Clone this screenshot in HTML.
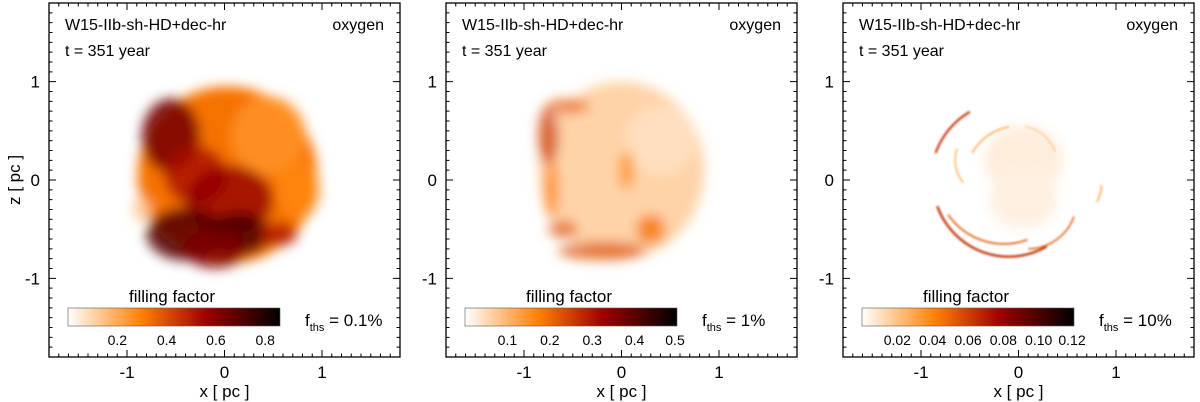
<!DOCTYPE html>
<html><head><meta charset="utf-8"><style>
html,body{margin:0;padding:0;background:#fff;}
svg{display:block;font-family:"Liberation Sans",sans-serif;}
</style></head><body>
<svg id="fig" width="1200" height="402" viewBox="0 0 1200 402" xmlns="http://www.w3.org/2000/svg">
<defs>
<filter id="blur" filterUnits="userSpaceOnUse" x="0" y="0" width="1200" height="402"><feGaussianBlur stdDeviation="6"/></filter>
<filter id="blur2" filterUnits="userSpaceOnUse" x="0" y="0" width="1200" height="402"><feGaussianBlur stdDeviation="1"/></filter>
<linearGradient id="cmap" x1="0" x2="1" y1="0" y2="0">
<stop offset="0" stop-color="#ffffff"/><stop offset="0.35" stop-color="#ff7f00"/><stop offset="0.65" stop-color="#a00000"/><stop offset="1" stop-color="#000000"/>
</linearGradient>
</defs>
</svg>
<script>
const panelOffsets=[0,397,794];
const xTicks=[-1,0,1];
const zTicks=[-1,0,1];
const cbTicks1=[0.2,0.4,0.6,0.8];const cbMax1=0.86;
const cbTicks2=[0.1,0.2,0.3,0.4,0.5];const cbMax2=0.5;
const cbTicks3=[0.02,0.04,0.06,0.08,0.10,0.12];const cbMax3=0.12;
const thsLabels=["0.1%","1%","10%"];
// blobs: x, z, rx, rz, value(0-1 colormap), opacity
const blobs1=[[0.03,0.05,0.92,0.9,0.38,1],[0.45,0.45,0.38,0.4,0.3,0.9],[0.75,-0.1,0.22,0.3,0.33,0.9],[-0.55,0.45,0.3,0.38,0.75,0.85],[-0.3,0.05,0.32,0.3,0.62,0.8],[0.05,-0.2,0.45,0.35,0.68,0.8],[-0.4,-0.55,0.4,0.27,0.82,0.85],[0.15,-0.55,0.32,0.22,0.85,0.85],[-0.1,-0.7,0.32,0.2,0.72,0.8],[0.55,-0.55,0.2,0.12,0.6,0.8],[-0.85,-0.3,0.1,0.12,0.15,0.8]];
const blobs2=[[0.0,0.1,0.85,0.9,0.12,1],[0.4,0.4,0.35,0.35,0.08,0.8],[-0.75,0.45,0.1,0.3,0.5,0.8],[-0.55,0.75,0.22,0.07,0.42,0.8],[-0.72,-0.1,0.07,0.3,0.35,0.8],[-0.2,-0.72,0.45,0.09,0.45,0.8],[0.3,-0.5,0.15,0.15,0.38,0.8],[0.05,0.1,0.08,0.2,0.3,0.8],[-0.6,-0.5,0.15,0.08,0.45,0.8]];
const haze3=[[0.05,0.2,0.4,0.35,0.05,1],[0.05,-0.2,0.35,0.3,0.04,1]];
// arcs: cx, cz, r, startDeg, endDeg, value, width
const arcs3=[[-0.1,0.0,0.78,200,300,0.55,2.2],[-0.15,0.05,0.7,215,290,0.45,1.6],[-0.1,0.0,0.8,120,160,0.55,2],[0.1,-0.2,0.5,270,340,0.45,1.5],[0.0,0.0,0.55,100,150,0.3,1.2],[-0.3,0.2,0.35,160,220,0.3,1.1],[0.5,-0.05,0.35,330,360,0.3,1.2],[0.0,0.15,0.4,20,80,0.2,1]];
const NS='http://www.w3.org/2000/svg';
const svg=document.getElementById('fig');
function mk(t,a,p){const e=document.createElementNS(NS,t);for(const k in a)e.setAttribute(k,a[k]);(p||svg).appendChild(e);return e;}
const stops=[[0,[255,255,255]],[0.35,[255,127,0]],[0.65,[160,0,0]],[1,[0,0,0]]];
function cmap(v){v=Math.max(0,Math.min(1,v));for(let i=1;i<stops.length;i++){if(v<=stops[i][0]){const a=stops[i-1],b=stops[i];const t=(v-a[0])/(b[0]-a[0]);const c=a[1].map((x,j)=>Math.round(x+(b[1][j]-x)*t));return `rgb(${c})`;}}return 'rgb(0,0,0)';}
const T=3,H=354,W=351;
panelOffsets.forEach((off,pi)=>{
 const L=49+off;
 const sx=x=>L+(x+1.8)/3.6*W, sz=z=>T+(1.8-z)/3.6*H, kx=W/3.6, kz=H/3.6;
 const g=mk('g',{});
 
 const img=mk('g',{},g);
 
 const bl=pi===0?blobs1:pi===1?blobs2:haze3;
 const bg=mk('g',{filter:'url(#blur)'},img);
 bl.forEach(b=>{const e=mk('ellipse',{cx:sx(b[0]),cy:sz(b[1]),rx:b[2]*kx,ry:b[3]*kz,fill:cmap(b[4]),opacity:b[5]},bg);
  });
 if(pi===2){const ag=mk('g',{filter:'url(#blur2)',fill:'none'},img);
  arcs3.forEach(a=>{const p=[];for(let d=a[3];d<=a[4];d+=5){const r=d*Math.PI/180;p.push((p.length?'L':'M')+sx(a[0]+a[2]*Math.cos(r)).toFixed(1)+','+sz(a[1]+a[2]*Math.sin(r)).toFixed(1));}
   const e=mk('path',{d:p.join(''),stroke:cmap(a[5]),'stroke-width':a[6]},ag);
   });}
 const fr=mk('rect',{x:L,y:T,width:W,height:H,fill:'none',stroke:'#000','stroke-width':1.3},g);
 
 let tk='';
 for(let i=-17;i<=17;i++){const v=i/10,len=(i%10===0)?7:3.5;const X=sx(v),Z=sz(v);
  tk+=`M${X},${T+H}v${-len}M${X},${T}v${len}M${L},${Z}h${len}M${L+W},${Z}h${-len}`;}
 const tp=mk('path',{d:tk,stroke:'#000','stroke-width':1},g);
 
 function txt(s,x,y,size,anchor,name,extra){const e=mk('text',Object.assign({x:x,y:y,'font-size':size,'text-anchor':anchor||'start',fill:'#000'},extra||{}),g);e.textContent=s;return e;}
 xTicks.forEach(v=>txt(v===0?'0':String(v),sx(v),378,17,'middle','x-tick-label'));
 zTicks.forEach(v=>txt(String(v),L-9,sz(v)+6,17,'end','z-tick-label'));
 txt('x [ pc ]',sx(0),397,17,'middle','x-axis-title');
 if(pi===0){txt('z [ pc ]',20,180,17,'middle','z-axis-title',{transform:'rotate(-90 20 180)'});}
 txt('W15-IIb-sh-HD+dec-hr',L+16,30,16,'start','model-label');
 txt('t = 351 year',L+16,56,16,'start','time-label');
 txt('oxygen',L+335,30,16,'end','element-label');
 const cbL=L+19,cbW=212,cbT=308,cbH=18;
 const cb=mk('rect',{x:cbL,y:cbT,width:cbW,height:cbH,fill:'url(#cmap)',stroke:'#555','stroke-width':0.6},g);
 
 txt('filling factor',cbL+cbW/2-2,302,17,'middle','colorbar-title');
 const ticks=pi===0?cbTicks1:pi===1?cbTicks2:cbTicks3,mx=pi===0?cbMax1:pi===1?cbMax2:cbMax3;
 ticks.forEach(v=>{const X=cbL+v/mx*cbW;txt(pi===2?v.toFixed(2):String(v),Math.min(X,cbL+cbW-2),345,14,'middle','colorbar-tick-label');});
 const f=txt('',L+256,326,17,'start','threshold-label');
 const t1=mk('tspan',{},f);t1.textContent='f';
 const t2=mk('tspan',{'font-size':11,dy:5},f);t2.textContent='ths';
 const t3=mk('tspan',{dy:-5},f);t3.textContent=' = '+thsLabels[pi];
});
</script>
</body></html>
